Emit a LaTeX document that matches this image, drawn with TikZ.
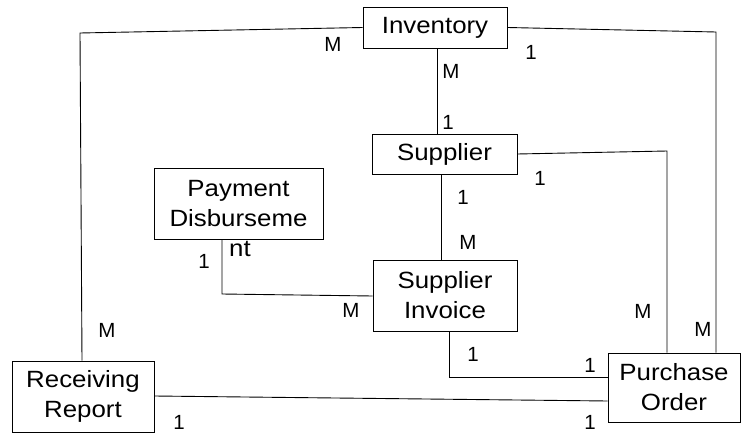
\documentclass[tikz,border=0pt]{standalone}
\usepackage{fontspec}
\setmainfont{Liberation Sans}
\newfontfamily\boxfont[FakeStretch=1.1]{Liberation Sans}
\begin{document}
\begin{tikzpicture}[x=1pt,y=-1pt,
  entity/.style={draw,line width=0.9pt,inner sep=0pt,align=center,font=\boxfont\fontsize{23.5}{30}\selectfont},
  card/.style={inner sep=0pt,font=\fontsize{20.5}{22}\selectfont},
  link/.style={line width=0.9pt}]
\useasboundingbox (0,0) rectangle (742,436);
% entities
\node[entity,minimum width=144,minimum height=41] (inv) at (435,27.5) {Inventory};
\node[entity,minimum width=145,minimum height=40] (sup) at (444.5,154) {Supplier};
\node[entity,minimum width=169,minimum height=71] (pd) at (238.5,203.5) {Payment\\Disburseme};
\node[entity,minimum width=144,minimum height=71] (si) at (445,295.5) {Supplier\\Invoice};
\node[entity,minimum width=142,minimum height=71] (rr) at (83,396.5) {Receiving\\Report};
\node[entity,minimum width=132,minimum height=69] (po) at (674,387.5) {Purchase\\Order};
\node[inner sep=0pt,font=\boxfont\fontsize{23.5}{30}\selectfont] (nt) at (240,249) {nt};
% connectors
\draw[link] (inv.west) -- (80,33) -- (rr.north -| 82,0);
\draw[link] (inv.east) -- (716,32) -- (po.north -| 716,0);
\draw[link] (inv.south -| 437,0) -- (sup.north -| 437,0);
\draw[link] (sup.east) -- (667,151) -- (po.north -| 667,0);
\draw[link] (sup.south -| 441,0) -- (si.north -| 441,0);
\draw[link] (pd.south -| 222,0) -- (222,294) -- (si.west |- 0,296);
\draw[link] (si.south -| 449,0) -- (449,377) -- (po.west |- 0,377);
\draw[link] (rr.east |- 0,396) -- (po.west |- 0,401);
% cardinalities
\node[card] (l1) at (333,44) {M};
\node[card] (l2) at (531,52) {1};
\node[card] (l3) at (451,71) {M};
\node[card] (l4) at (448,122) {1};
\node[card] (l5) at (540,178) {1};
\node[card] (l6) at (463,197) {1};
\node[card] (l7) at (468,242) {M};
\node[card] (l8) at (204,261) {1};
\node[card] (l9) at (351,310) {M};
\node[card] (l10) at (107,330) {M};
\node[card] (l11) at (179,422) {1};
\node[card] (l12) at (643,311) {M};
\node[card] (l13) at (703,329) {M};
\node[card] (l14) at (473,354) {1};
\node[card] (l15) at (590,365) {1};
\node[card] (l16) at (590,422) {1};
\end{tikzpicture}
\end{document}
